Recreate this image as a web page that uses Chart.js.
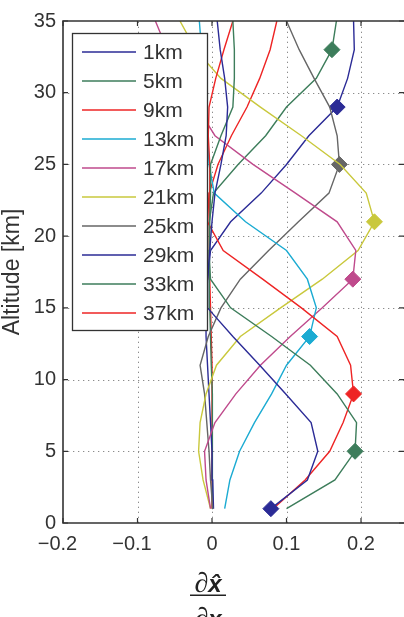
<!DOCTYPE html>
<html>
<head>
<meta charset="utf-8">
<script src="https://cdn.jsdelivr.net/npm/chart.js@4.4.1/dist/chart.umd.min.js"></script>
<style>
html,body{margin:0;padding:0;background:#fff;overflow:hidden;}
#wrap{position:relative;width:404px;height:617px;}
</style>
</head>
<body>
<div id="wrap"><canvas id="c" width="404" height="617"></canvas></div>
<script>
// ---------- data ----------
const altitudes = [1,3,5,7,9,11,13,15,17,19,21,23,25,27,29,31,33,35];
const seriesNames = ['1km','5km','9km','13km','17km','21km','25km','29km','33km','37km'];
const peakAltitudes = [1,5,9,13,17,21,25,29,33,37];

const kernel1km  = [0.079,0.128,0.142,0.133,0.099,0.064,0.028,-0.006,-0.006,-0.003,0.000,0.004,0.012,0.019,0.021,0.017,0.011,0.007];
const kernel5km  = [0.100,0.165,0.192,0.194,0.168,0.132,0.080,0.025,-0.002,-0.004,-0.003,-0.002,-0.002,0.012,0.028,0.030,0.030,0.028];
const kernel9km  = [0.082,0.125,0.158,0.176,0.190,0.186,0.168,0.120,0.068,0.015,-0.006,-0.004,-0.003,-0.005,-0.004,0.005,0.016,0.028];
const kernel13km = [0.017,0.024,0.037,0.057,0.080,0.100,0.131,0.140,0.128,0.100,0.045,0.003,-0.004,-0.006,-0.008,-0.010,-0.014,-0.017];
const kernel17km = [-0.002,-0.008,-0.010,0.004,0.032,0.065,0.105,0.148,0.189,0.193,0.168,0.112,0.055,0.004,-0.020,-0.040,-0.060,-0.076];
const kernel21km = [-0.002,-0.012,-0.018,-0.016,-0.008,0.006,0.038,0.092,0.148,0.196,0.218,0.207,0.172,0.120,0.065,0.012,-0.022,-0.043];
const kernel25km = [0.001,-0.002,-0.004,-0.007,-0.010,-0.016,-0.005,0.012,0.038,0.076,0.116,0.157,0.171,0.168,0.158,0.137,0.117,0.100];
const kernel29km = [0.002,0.001,0.000,-0.002,-0.004,-0.006,-0.008,-0.008,-0.006,-0.002,0.025,0.066,0.100,0.130,0.168,0.182,0.191,0.190];
const kernel33km = [0.000,0.000,0.001,0.001,0.000,-0.001,-0.002,-0.003,-0.004,-0.004,-0.003,0.002,0.035,0.072,0.100,0.140,0.161,0.167];
const kernel37km = [0.000,0.000,0.000,0.000,0.000,0.000,-0.001,-0.002,-0.003,-0.004,-0.004,-0.003,0.008,0.026,0.047,0.064,0.078,0.087];

const xTicks = [-0.2,-0.1,0,0.1,0.2];
const xTickLabels = ['\u22120.2','\u22120.1','0','0.1','0.2'];
const yTicks = [0,5,10,15,20,25,30,35];
const yTickLabels = ['0','5','10','15','20','25','30','35'];
const xRange = [-0.2, 0.2577];
const yRange = [0, 35];
const yTitle = 'Altitude [km]';

// ---------- styles ----------
const kernels = [kernel1km,kernel5km,kernel9km,kernel13km,kernel17km,kernel21km,kernel25km,kernel29km,kernel33km,kernel37km];
const lineColors = ['#2b2b96','#3d7d5b','#ee2424','#1babd2','#bf4a8c','#c9c83c','#666666','#2b2b96','#3d7d5b','#ee2424'];
const AX = '#333333';
const FONT = '"Liberation Sans", Arial, sans-serif';

const datasets = seriesNames.map((name, i) => ({
  label: name,
  data: altitudes.map((a, j) => ({x: kernels[i][j], y: a})),
  showLine: true,
  borderColor: lineColors[i],
  backgroundColor: lineColors[i],
  borderWidth: 1.4,
  tension: 0,
  pointStyle: 'rectRot',
  pointRadius: ctx => (ctx.raw && ctx.raw.y === peakAltitudes[i]) ? 8 : 0,
  pointBorderWidth: 1,
  pointBackgroundColor: lineColors[i],
  pointBorderColor: lineColors[i],
  pointHoverRadius: 0
}));

const deco = {
  id: 'deco',
  beforeDatasetsDraw(chart) {
    const {ctx, chartArea: a, scales: {x, y}} = chart;
    ctx.save();
    ctx.strokeStyle = '#8c8c8c';
    ctx.lineWidth = 1;
    ctx.setLineDash([1.3, 3.7]);
    xTicks.forEach(v => {
      const px = Math.round(x.getPixelForValue(v)) + 0.5;
      if (px > a.left + 2 && px < a.right - 2) {
        ctx.beginPath(); ctx.moveTo(px, a.bottom); ctx.lineTo(px, a.top); ctx.stroke();
      }
    });
    yTicks.forEach(v => {
      const py = Math.round(y.getPixelForValue(v)) + 0.5;
      if (py > a.top + 2 && py < a.bottom - 2) {
        ctx.beginPath(); ctx.moveTo(a.left, py); ctx.lineTo(a.right, py); ctx.stroke();
      }
    });
    ctx.restore();
  },
  afterDatasetsDraw(chart) {
    const {ctx, chartArea: a, scales: {x, y}} = chart;
    ctx.save();
    // frame
    ctx.strokeStyle = AX;
    ctx.lineWidth = 1.6;
    ctx.beginPath();
    ctx.moveTo(a.right + 2, a.top); ctx.lineTo(a.left, a.top); ctx.lineTo(a.left, a.bottom); ctx.lineTo(a.right + 2, a.bottom);
    ctx.stroke();
    // inward ticks
    ctx.lineWidth = 1.2;
    const tl = 5;
    xTicks.forEach(v => {
      const px = x.getPixelForValue(v);
      ctx.beginPath();
      ctx.moveTo(px, a.bottom); ctx.lineTo(px, a.bottom - tl);
      ctx.moveTo(px, a.top); ctx.lineTo(px, a.top + tl);
      ctx.stroke();
    });
    yTicks.forEach(v => {
      const py = y.getPixelForValue(v);
      ctx.beginPath();
      ctx.moveTo(a.left, py); ctx.lineTo(a.left + tl, py);
      ctx.moveTo(a.right, py); ctx.lineTo(a.right - tl, py);
      ctx.stroke();
    });
    // legend
    const lx = 72, ly = 33, lw = 135, lh = 297;
    ctx.fillStyle = '#ffffff';
    ctx.fillRect(lx, ly, lw, lh);
    ctx.strokeStyle = AX;
    ctx.lineWidth = 1.3;
    ctx.strokeRect(lx + 0.5, ly + 0.5, lw, lh);
    ctx.font = '21px ' + FONT;
    ctx.textBaseline = 'middle';
    ctx.textAlign = 'left';
    chart.data.datasets.forEach((ds, i) => {
      const ry = ly + 19 + i * 29;
      ctx.strokeStyle = ds.borderColor;
      ctx.lineWidth = 1.4;
      ctx.beginPath(); ctx.moveTo(lx + 10, ry); ctx.lineTo(lx + 64, ry); ctx.stroke();
      ctx.fillStyle = AX;
      ctx.fillText(ds.label, lx + 71, ry + 1);
    });
    // x-axis label (fraction)
    const cx = 208;
    ctx.fillStyle = '#222';
    ctx.textBaseline = 'alphabetic';
    ctx.textAlign = 'left';
    ctx.font = 'italic 28px "Liberation Serif", serif';
    const dW = ctx.measureText('\u2202').width;
    ctx.font = 'bold italic 24px ' + FONT;
    const xW = ctx.measureText('x').width;
    const total = dW + xW;
    const sx = cx - total / 2;
    ctx.font = 'italic 28px "Liberation Serif", serif';
    ctx.fillText('\u2202', sx, 592);
    ctx.fillText('\u2202', sx, 627);
    ctx.font = 'bold italic 24px ' + FONT;
    ctx.fillText('x\u0302', sx + dW, 592);
    ctx.fillText('x', sx + dW, 627);
    ctx.fillRect(cx - 18, 594.5, 36, 1.5);
    ctx.restore();
  }
};

new Chart(document.getElementById('c'), {
  type: 'scatter',
  data: {datasets},
  options: {
    responsive: false,
    animation: false,
    devicePixelRatio: 1,
    events: [],
    layout: {autoPadding: false, padding: {top: 21, right: 0, left: 0, bottom: 0}},
    plugins: {legend: {display: false}, tooltip: {enabled: false}},
    scales: {
      x: {
        type: 'linear',
        min: xRange[0], max: xRange[1],
        grid: {display: false, drawTicks: false},
        border: {display: false},
        afterBuildTicks: s => { s.ticks = xTicks.map(v => ({value: v})); },
        afterFit: s => { s.height = 94; },
        ticks: {
          padding: 9,
          color: AX,
          font: {family: FONT, size: 20},
          maxRotation: 0,
          autoSkip: false,
          callback: (v, i) => xTickLabels[i] + (xTicks[i] < 0 ? '  ' : '')
        }
      },
      y: {
        type: 'linear',
        min: yRange[0], max: yRange[1],
        grid: {display: false, drawTicks: false},
        border: {display: false},
        afterBuildTicks: s => { s.ticks = yTicks.map(v => ({value: v})); },
        afterFit: s => { s.width = 63; },
        ticks: {
          padding: 7,
          color: AX,
          font: {family: FONT, size: 20},
          autoSkip: false,
          callback: (v, i) => yTickLabels[i]
        },
        title: {
          display: true,
          text: yTitle,
          color: AX,
          font: {family: FONT, size: 23, lineHeight: 1},
          padding: {top: 1, bottom: 0}
        }
      }
    }
  },
  plugins: [deco]
});
</script>
</body>
</html>
